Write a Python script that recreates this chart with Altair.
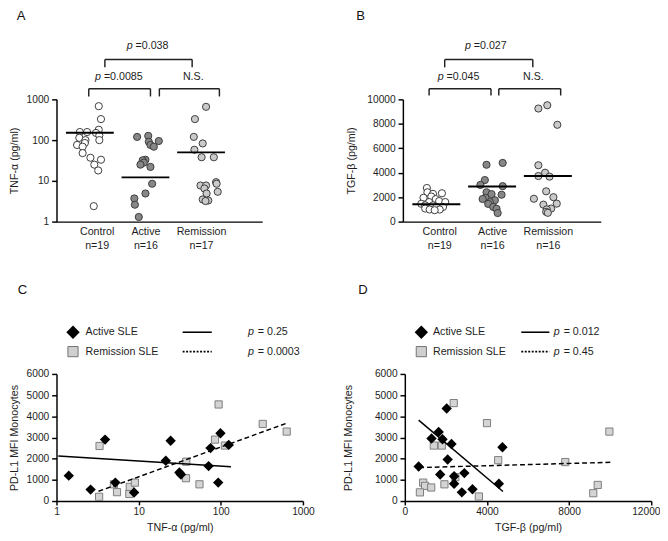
import altair as alt
import pandas as pd

FONT = "Liberation Sans"
INK = "#1e1e1e"

groups = ["Control", "Active", "Remission"]
a_counts = ["n=19", "n=16", "n=17"]
b_counts = ["n=19", "n=16", "n=16"]
dot_fills = ["#ffffff", "#878787", "#cacaca"]

# Panel A: TNF-alpha (pg/ml), log scale
a_control = [681, 328, 180, 158, 158, 150, 131, 114, 100, 100, 85, 76, 69, 48, 37, 33, 25, 18, 2.4]
a_control_jit = [0.16, 0.20, 0.16, -0.18, -0.05, 0.11, 0.17, -0.19, 0.17, -0.08, -0.09, -0.23, -0.13, -0.13, 0.01, 0.20, 0.08, 0.15, 0.07]
a_active = [127, 120, 95, 91, 76, 69, 33, 32, 28, 25, 22, 8.5, 4.9, 3.7, 2.6, 1.3]
a_active_jit = [0.05, -0.15, 0.24, 0.06, 0.09, 0.15, 0.0, -0.05, -0.03, -0.09, 0.09, 0.12, 0.0, -0.20, -0.19, -0.12]
a_remission = [656, 328, 120, 83, 58, 38, 38, 9.3, 8.5, 7.7, 7.7, 6.5, 5.4, 4.9, 3.5, 3.3, 3.2]
a_remission_jit = [0.09, -0.11, -0.13, 0.03, -0.12, 0.01, 0.23, 0.27, 0.28, -0.01, 0.09, 0.06, 0.30, 0.10, 0.03, 0.13, 0.08]
a_center = [152, 12.2, 50]

# Panel B: TGF-beta (pg/ml)
b_control = [2750, 2400, 2320, 2270, 2050, 1950, 1840, 1680, 1600, 1600, 1460, 1330, 1330, 1200, 1200, 1070, 990, 990, 935]
b_control_jit = [-0.17, -0.16, 0.10, -0.06, -0.09, -0.23, -0.01, 0.05, 0.16, -0.13, -0.27, -0.20, -0.06, 0.0, 0.12, -0.20, -0.12, 0.06, -0.03]
b_active = [4800, 4650, 3400, 3000, 2900, 2400, 2250, 2200, 1950, 1850, 1750, 1600, 1450, 1200, 1050, 700]
b_active_jit = [0.19, -0.10, -0.13, -0.21, 0.19, -0.10, -0.01, 0.17, -0.12, -0.17, 0.05, -0.04, -0.07, 0.02, 0.08, 0.10]
b_remission = [9250, 9520, 7920, 4610, 4000, 3730, 3680, 2480, 2000, 1870, 1470, 1390, 1070, 1000, 800, 720]
b_remission_jit = [-0.17, -0.01, 0.17, -0.17, -0.05, -0.17, 0.03, -0.03, 0.10, -0.25, 0.16, -0.08, 0.06, -0.02, -0.03, 0.0]
b_center = [1420, 2880, 3730]

# Panel C: PD-L1 MFI vs TNF-alpha
c_active_x = [1.41, 2.6, 3.9, 5.2, 8.8, 21.4, 24.5, 31.3, 32.7, 71, 75, 99, 125, 93]
c_active_y = [1200, 540, 2900, 870, 400, 1900, 2850, 1350, 1250, 1650, 2500, 3200, 2650, 870]
c_rem_x = [3.3, 3.34, 5.0, 5.45, 7.7, 7.8, 9.0, 38, 37.7, 55, 85, 94, 112, 324, 634]
c_rem_y = [200, 2600, 790, 420, 335, 670, 870, 1860, 1080, 790, 2900, 4560, 2620, 3640, 3280]
c_fit_active_x = [1.05, 133]
c_fit_active_y = [2130, 1620]
c_fit_rem_x = [3.25, 650]
c_fit_rem_y = [460, 3690]

# Panel D: PD-L1 MFI vs TGF-beta
d_active_x = [673, 1300, 1647, 1835, 2038, 2273, 2085, 1722, 2400, 2400, 2899, 2776, 3294, 4753, 4579]
d_active_y = [1630, 2950, 3260, 2920, 4370, 2690, 1960, 1250, 1170, 820, 1320, 410, 560, 2540, 820]
d_rem_x = [2381, 4000, 1412, 1800, 4546, 2461, 1929, 894, 988, 1285, 735, 3605, 7812, 9176, 9393, 9960]
d_rem_y = [4625, 3680, 2620, 2620, 1930, 1130, 790, 870, 717, 640, 410, 215, 1840, 370, 760, 3280]
d_fit_active_x = [673, 4780]
d_fit_active_y = [3820, 450]
d_fit_rem_x = [700, 10050]
d_fit_rem_y = [1580, 1830]

legend_labels = ["Active SLE", "Remission SLE"]
c_pvals = ["= 0.25", "= 0.0003"]
d_pvals = ["= 0.012", "= 0.45"]


def one(v):
    return pd.DataFrame({"k": [v]})


def letter_mark(letter, lx):
    return alt.Chart(one(letter)).mark_text(
        fontSize=13.5, align="left", baseline="top", color="#111"
    ).encode(x=alt.value(lx), y=alt.value(-93), text="k:N")


def dot_panel(vals, jits, centers, counts, y_scale, y_values, y_title, x_max, width,
              top_br, low_br, low_y2, p_top, p_low, ns_x, pv_top, pv_low, letter, lx, tpad,
              first_shift=0):
    rows = []
    for gi in range(3):
        for v, j in zip(vals[gi], jits[gi]):
            rows.append({"g": gi, "grp": groups[gi], "j": j, "v": v})
    df = pd.DataFrame(rows)
    xs = alt.Scale(domain=[-0.6, x_max], nice=False, zero=False)
    expr = " : ".join(
        f"datum.value == {i} ? ['{groups[i]}', '{counts[i]}']" for i in range(2)
    ) + f" : ['{groups[2]}', '{counts[2]}']"
    xkw = dict(values=[0, 1, 2], ticks=False, labelExpr=expr, title=None,
               labelFontSize=11, labelPadding=4, labelLineHeight=15,
               labelOverlap=False, labelFlush=False, domainWidth=1.5)
    if first_shift:
        xkw["labelOffset"] = alt.condition("datum.value == 0", alt.value(first_shift), alt.value(0))
    xaxis = alt.Axis(**xkw)
    yaxis = alt.Axis(values=y_values, format="d", tickSize=5, tickWidth=1.5,
                     domainWidth=1.5, title=y_title, titlePadding=tpad,
                     labelFontSize=10.5, titleFontSize=11, labelPadding=3,
                     labelOverlap=False)

    def X(field):
        return alt.X(field, scale=xs, axis=xaxis)

    def Y(field):
        return alt.Y(field, scale=y_scale, axis=yaxis)

    pts = alt.Chart(df).transform_calculate(px="datum.g + datum.j").mark_circle(
        size=55, opacity=1, stroke="#3a3a3a", strokeWidth=1
    ).encode(
        x=X("px:Q"), y=Y("v:Q"),
        fill=alt.Fill("grp:N", scale=alt.Scale(domain=groups, range=dot_fills), legend=None),
    )
    cdf = pd.DataFrame({"g": [0, 1, 2], "c": centers})
    med = alt.Chart(cdf).transform_calculate(
        a="datum.g - 0.43", b="datum.g + 0.43"
    ).mark_rule(color="black", strokeWidth=2).encode(x=X("a:Q"), x2="b:Q", y=Y("c:Q"))
    layers = [pts, med]
    for br, yt, yb in [(top_br, -41, -33), (low_br, -11, low_y2)]:
        bdf = pd.DataFrame({"x1": [b[0] for b in br], "x2": [b[1] for b in br]})
        layers.append(alt.Chart(bdf).mark_rule(color="#222", strokeWidth=1.5).encode(
            x=X("x1:Q"), x2="x2:Q", y=alt.value(yt)))
        layers.append(alt.Chart(bdf).transform_fold(["x1", "x2"], as_=["k", "xv"]).mark_rule(
            color="#222", strokeWidth=1.5).encode(
            x=X("xv:Q"), y=alt.value(yt), y2=alt.value(yb)))
    for px_, pv, yy in [(p_top, pv_top, -55), (p_low, pv_low, -23)]:
        tdf = pd.DataFrame({"x": [px_], "t": [pv]})
        layers.append(alt.Chart(tdf).mark_text(fontSize=11, fontStyle="italic", align="right",
                                               baseline="middle", color=INK).encode(
            x=X("x:Q"), y=alt.value(yy), text=alt.value("p")))
        layers.append(alt.Chart(tdf).mark_text(fontSize=11, align="left", baseline="middle",
                                               dx=3, color=INK).encode(
            x=X("x:Q"), y=alt.value(yy), text="t:N"))
    nsdf = pd.DataFrame({"x": [ns_x], "t": ["N.S."]})
    layers.append(alt.Chart(nsdf).mark_text(fontSize=11, align="center", baseline="middle",
                                            color=INK).encode(
        x=X("x:Q"), y=alt.value(-23), text="t:N"))
    layers.append(letter_mark(letter, lx))
    return alt.layer(*layers).properties(width=width, height=126)


def scatter_panel(ax, ay, rx, ry, fax, fay, frx, fry, x_scale, x_values, x_title,
                  pvals, leg, letter, lx, tpad, last_right=False):
    xs = x_scale
    ys = alt.Scale(domain=[0, 6000], nice=False)
    xkw = dict(values=x_values, format="d", tickSize=4, tickWidth=1.5, domainWidth=1.5,
               title=x_title, titlePadding=5, labelFontSize=10.5, titleFontSize=11,
               labelPadding=2, labelOverlap=False, labelFlush=False)
    if last_right:
        last = x_values[-1]
        xkw["labelAlign"] = alt.condition(f"datum.value == {last}", alt.value("right"), alt.value("center"))
        xkw["labelOffset"] = alt.condition(f"datum.value == {last}", alt.value(9), alt.value(0))
    xaxis = alt.Axis(**xkw)
    yaxis = alt.Axis(values=[0, 1000, 2000, 3000, 4000, 5000, 6000], format="d", tickSize=5,
                     tickWidth=1.5, domainWidth=1.5, title="PD-L1 MFI Monocytes",
                     titlePadding=tpad, labelFontSize=10.5, titleFontSize=11, labelPadding=3,
                     labelOverlap=False)

    def X(field):
        return alt.X(field, scale=xs, axis=xaxis)

    def Y(field):
        return alt.Y(field, scale=ys, axis=yaxis)

    rdf = pd.DataFrame({"x": rx, "y": ry})
    adf = pd.DataFrame({"x": ax, "y": ay})
    sq = alt.Chart(rdf).mark_point(shape="square", filled=True, size=55, fill="#d4d4d4",
                                   stroke="#7c7c7c", strokeWidth=1, opacity=1).encode(
        x=X("x:Q"), y=Y("y:Q"))
    dm = alt.Chart(adf).mark_point(shape="diamond", filled=True, size=115, color="black",
                                   opacity=1).encode(x=X("x:Q"), y=Y("y:Q"))
    fa = alt.Chart(pd.DataFrame({"x": fax, "y": fay})).mark_line(color="black", strokeWidth=1.5).encode(
        x=X("x:Q"), y=Y("y:Q"))
    fr = alt.Chart(pd.DataFrame({"x": frx, "y": fry})).mark_line(
        color="black", strokeWidth=1.5, strokeDash=[5, 3]).encode(x=X("x:Q"), y=Y("y:Q"))
    sym_x, txt_x, l1, l2, p_x = leg
    r1, r2 = -43, -23
    lg = [
        alt.Chart(one(0)).mark_point(shape="diamond", filled=True, size=190, color="black",
                                     opacity=1).encode(x=alt.value(sym_x), y=alt.value(r1)),
        alt.Chart(one(0)).mark_point(shape="square", filled=True, size=110, fill="#cfcfcf",
                                     stroke="#707070", strokeWidth=1, opacity=1).encode(
            x=alt.value(sym_x), y=alt.value(r2)),
        alt.Chart(one(legend_labels[0])).mark_text(fontSize=11, align="left", baseline="middle",
                                                   color=INK).encode(
            x=alt.value(txt_x), y=alt.value(r1), text="k:N"),
        alt.Chart(one(legend_labels[1])).mark_text(fontSize=11, align="left", baseline="middle",
                                                   color=INK).encode(
            x=alt.value(txt_x), y=alt.value(r2), text="k:N"),
        alt.Chart(one(0)).mark_rule(color="black", strokeWidth=1.6).encode(
            x=alt.value(l1), x2=alt.value(l2), y=alt.value(r1)),
        alt.Chart(one(0)).mark_rule(color="black", strokeWidth=2, strokeDash=[2, 1.6]).encode(
            x=alt.value(l1), x2=alt.value(l2), y=alt.value(r2)),
    ]
    for pv, rr in zip(pvals, [r1, r2]):
        lg.append(alt.Chart(one(pv)).mark_text(fontSize=11, fontStyle="italic", align="right",
                                               baseline="middle", color=INK).encode(
            x=alt.value(p_x), y=alt.value(rr), text=alt.value("p")))
        lg.append(alt.Chart(one(pv)).mark_text(fontSize=11, align="left", baseline="middle",
                                               dx=4, color=INK).encode(
            x=alt.value(p_x), y=alt.value(rr), text="k:N"))
    return alt.layer(sq, dm, fa, fr, *lg, letter_mark(letter, lx)).properties(width=254, height=131)


A = dot_panel([a_control, a_active, a_remission], [a_control_jit, a_active_jit, a_remission_jit],
              a_center, a_counts, alt.Scale(type="log", domain=[1, 1000], nice=False),
              [1, 10, 100, 1000], "TNF-α (pg/ml)", 3.10, 212,
              [(0.27, 1.84)], [(-0.02, 1.09), (1.25, 2.33)], -3,
              0.77, 0.20, 1.86, "=0.038", "=0.0085", "A", -41, 7, first_shift=7)
B = dot_panel([b_control, b_active, b_remission], [b_control_jit, b_active_jit, b_remission_jit],
              b_center, b_counts, alt.Scale(domain=[0, 10000], nice=False),
              [0, 2000, 4000, 6000, 8000, 10000], "TGF-β (pg/ml)", 2.95, 204,
              [(0.15, 1.73)], [(-0.13, 0.98), (1.12, 2.23)], -4,
              0.62, 0.13, 1.74, "=0.027", "=0.045", "B", -48, 11, first_shift=3)
C = scatter_panel(c_active_x, c_active_y, c_rem_x, c_rem_y, c_fit_active_x, c_fit_active_y,
                  c_fit_rem_x, c_fit_rem_y, alt.Scale(type="log", domain=[1, 1000], nice=False),
                  [1, 10, 100, 1000], "TNF-α  (pg/ml)", c_pvals, (17, 30, 130, 160, 203.5), "C", -40, 7)
D = scatter_panel(d_active_x, d_active_y, d_rem_x, d_rem_y, d_fit_active_x, d_fit_active_y,
                  d_fit_rem_x, d_fit_rem_y, alt.Scale(domain=[0, 12000], nice=False),
                  [0, 4000, 8000, 12000], "TGF-β  (pg/ml)", d_pvals, (17, 29, 120, 149, 159.7), "D", -48, 22,
                  last_right=True)

top = alt.hconcat(A, B, spacing=85)
bottom = alt.hconcat(C, D, spacing=28)
chart = alt.vconcat(top, bottom, spacing=34,
                    padding={"left": 0, "top": -7, "right": 0, "bottom": 0}).configure_view(
    stroke=None
).configure_axis(
    grid=False, domainColor="black", tickColor="black", labelColor=INK, titleColor=INK,
    labelFont=FONT, titleFont=FONT, titleFontWeight="normal", labelOverlap=False
).configure_text(font=FONT)

chart.save("out.html", embed_options={"renderer": "svg", "actions": False})
